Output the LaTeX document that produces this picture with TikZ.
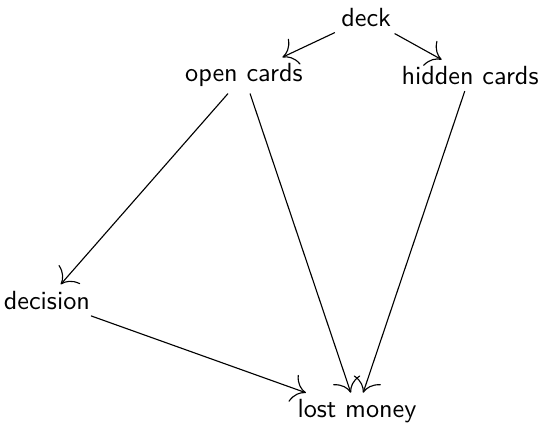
\documentclass[tikz,border=0pt]{standalone}
\usepackage{tikz}
\usetikzlibrary{arrows.meta}

\begin{document}
\begin{tikzpicture}[
        var/.style={font=\sffamily\fontsize{10.5}{12.6}\selectfont, inner sep=2.4pt},
        edge/.style={-{To[scale=2.1]}, line width=0.45pt}
    ]
        \useasboundingbox (0,0) rectangle (7.65,-5.99);
        % Variaveis
        \node[var] (deck) at (5.15,-0.25) {deck};
        \node[var] (open) at (3.43,-1.06) {open cards};
        \node[var] (hidden) at (6.61,-1.06) {hidden cards};
        \node[var] (dec) at (0.66,-4.22) {decision};
        \node[var] (lost) at (5.02,-5.78) {lost money};
        
        % Arestas
        \draw[edge] (deck) -- (open);
        \draw[edge] (deck) -- (hidden);
        \draw[edge] (open) -- (dec);
        \draw[edge] (open) -- (lost);
        \draw[edge] (hidden) -- (lost);
        \draw[edge] (dec) -- (lost);
    \end{tikzpicture}
\end{document}
